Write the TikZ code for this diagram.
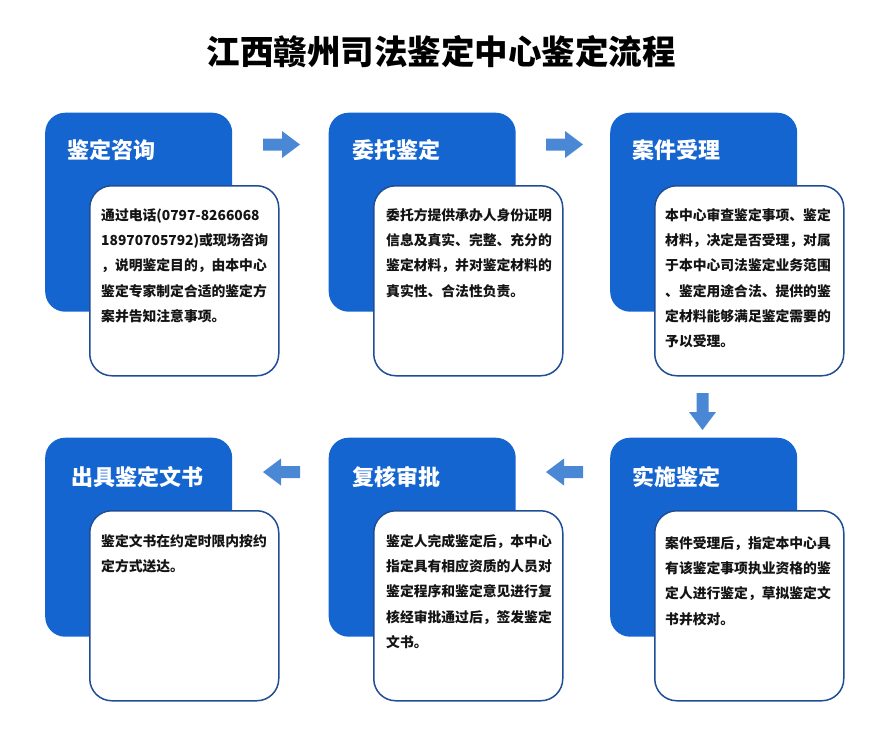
\documentclass[tikz,border=0pt]{standalone}
\usepackage{fontspec}
\newfontfamily\cjk{Noto Sans CJK SC}
\newfontfamily\cjkheavy{Noto Sans CJK SC Black}
\definecolor{boxblue}{HTML}{1565D0}
\definecolor{arrowblue}{HTML}{4A88D6}
\definecolor{edgeblue}{HTML}{1F4E96}
\definecolor{inktext}{HTML}{141414}
\begin{document}
\begin{tikzpicture}[x=1pt,y=-1pt,
  bluebox/.style={fill=boxblue, rounded corners=20pt, minimum width=187pt, minimum height=199pt, anchor=north west, inner sep=0pt},
  whitebox/.style={fill=white, draw=edgeblue, line width=1.5pt, rounded corners=22pt, minimum width=189pt, minimum height=190pt, anchor=north west, inner sep=0pt},
  boxtitle/.style={anchor=west, inner sep=0pt, text=white, font=\cjkheavy\fontsize{22}{26}\selectfont},
  bodytext/.style={anchor=north west, inner sep=0pt, align=left, text=inktext, font=\cjk\bfseries\fontsize{13.8}{25.2}\selectfont},
  flowarrow/.style={fill=arrowblue}
]
\useasboundingbox (0,0) rectangle (880,753);
\fill[white] (0,0) rectangle (880,753);

\node[anchor=center, inner sep=0pt, text=black, font=\cjkheavy\fontsize{33.5}{38}\selectfont] (maintitle) at (441,52) {江西赣州司法鉴定中心鉴定流程};

% row 1
\node[bluebox] (b1) at (45,112.5) {};
\node[boxtitle] (t1) at (67,150) {鉴定咨询};
\node[whitebox] (w1) at (89,185) {};
\node[bodytext] (x1) at (101,207.2) {\rule{0pt}{13pt}通过电话(0797-8266068\\18970705792)或现场咨询\\，说明鉴定目的，由本中心\\鉴定专家制定合适的鉴定方\\案并告知注意事项。};

\node[bluebox] (b2) at (328.5,112.5) {};
\node[boxtitle] (t2) at (352,150) {委托鉴定};
\node[whitebox] (w2) at (373,185) {};
\node[bodytext] (x2) at (386,207.2) {\rule{0pt}{13pt}委托方提供承办人身份证明\\信息及真实、完整、充分的\\鉴定材料，并对鉴定材料的\\真实性、合法性负责。};

\node[bluebox] (b3) at (610,112.5) {};
\node[boxtitle] (t3) at (632,150) {案件受理};
\node[whitebox] (w3) at (654,185) {};
\node[bodytext] (x3) at (665,207.2) {\rule{0pt}{13pt}本中心审查鉴定事项、鉴定\\材料，决定是否受理，对属\\于本中心司法鉴定业务范围\\、鉴定用途合法、提供的鉴\\定材料能够满足鉴定需要的\\予以受理。};

% row 2
\node[bluebox] (b4) at (610,437.5) {};
\node[boxtitle] (t4) at (632,477) {实施鉴定};
\node[whitebox] (w4) at (654,510) {};
\node[bodytext] (x4) at (665,535.2) {\rule{0pt}{13pt}案件受理后，指定本中心具\\有该鉴定事项执业资格的鉴\\定人进行鉴定，草拟鉴定文\\书并校对。};

\node[bluebox] (b5) at (328.5,437.5) {};
\node[boxtitle] (t5) at (352,477) {复核审批};
\node[whitebox] (w5) at (373,510) {};
\node[bodytext] (x5) at (386,533.2) {\rule{0pt}{13pt}鉴定人完成鉴定后，本中心\\指定具有相应资质的人员对\\鉴定程序和鉴定意见进行复\\核经审批通过后，签发鉴定\\文书。};

\node[bluebox] (b6) at (45,437.5) {};
\node[boxtitle] (t6) at (71,477) {出具鉴定文书};
\node[whitebox] (w6) at (89,510) {};
\node[bodytext] (x6) at (101,533.2) {\rule{0pt}{13pt}鉴定文书在约定时限内按约\\定方式送达。};

% arrows
\fill[flowarrow] (263,138.5) -- (282,138.5) -- (282,131) -- (300,144.5) -- (282,158) -- (282,150.5) -- (263,150.5) -- cycle;
\fill[flowarrow] (546,138.5) -- (565,138.5) -- (565,131) -- (583,144.5) -- (565,158) -- (565,150.5) -- (546,150.5) -- cycle;
\fill[flowarrow] (696.5,393) -- (708.5,393) -- (708.5,412) -- (716,412) -- (702.5,430) -- (689,412) -- (696.5,412) -- cycle;
\fill[flowarrow] (583,466) -- (564,466) -- (564,458.5) -- (546,472) -- (564,485.5) -- (564,478) -- (583,478) -- cycle;
\fill[flowarrow] (300,466) -- (281,466) -- (281,458.5) -- (263,472) -- (281,485.5) -- (281,478) -- (300,478) -- cycle;
\end{tikzpicture}
\end{document}
